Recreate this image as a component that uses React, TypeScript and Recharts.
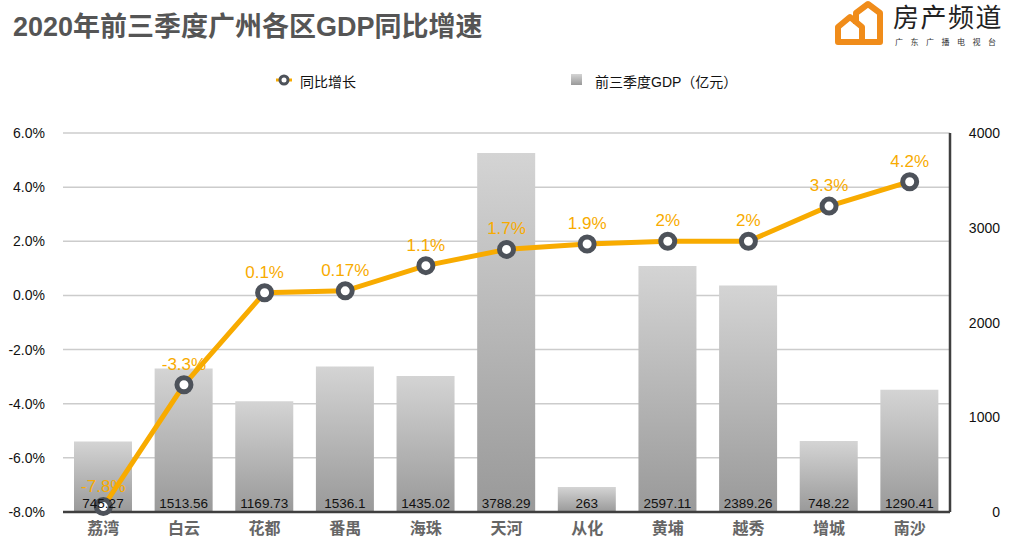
import React from 'react'
import {
  Bar,
  CartesianGrid,
  ComposedChart,
  LabelList,
  Line,
  XAxis,
  YAxis,
} from 'recharts'

const districts = ['荔湾', '白云', '花都', '番禺', '海珠', '天河', '从化', '黄埔', '越秀', '增城', '南沙']
const gdp = [745.27, 1513.56, 1169.73, 1536.1, 1435.02, 3788.29, 263, 2597.11, 2389.26, 748.22, 1290.41]
const growth = [-7.8, -3.3, 0.1, 0.17, 1.1, 1.7, 1.9, 2, 2, 3.3, 4.2]
const growthTicks = [-8, -6, -4, -2, 0, 2, 4, 6]
const gdpTicks = [0, 1000, 2000, 3000, 4000]

const FONT = '"Liberation Sans", Arial, "Noto Sans CJK SC", sans-serif'
const ORANGE = '#F8AB00'
const DOT_GRAY = '#4d525a'
const AXIS_DARK = '#3f3f3f'

const data = districts.map((name, i) => ({ name, gdp: gdp[i], growth: growth[i] }))

function RightTick({ x, y, payload }: any) {
  return (
    <text x={x + 50} y={y} dy={5} textAnchor="end" fontSize={14} fill="#111" fontFamily={FONT}>
      {payload.value}
    </text>
  )
}

function Logo() {
  return (
    <div style={{ position: 'absolute', left: 830, top: 0, width: 186, height: 50 }}>
      <svg width={56} height={50} style={{ position: 'absolute', left: 0, top: 0 }}>
        <path
          d="M26 24 L26 13 L38 4 L50 13 L50 42 L8 42 L8 27 L20 17 L32 27 L32 42"
          fill="none"
          stroke="#F08C1A"
          strokeWidth={6}
          strokeLinejoin="round"
        />
      </svg>
      <div
        style={{
          position: 'absolute',
          left: 63,
          top: 3,
          fontSize: 26,
          letterSpacing: 1.5,
          color: '#222',
          fontFamily: FONT,
          lineHeight: '30px',
          whiteSpace: 'nowrap',
        }}
      >
        房产频道
      </div>
      <div
        style={{
          position: 'absolute',
          left: 65,
          top: 36,
          fontSize: 8,
          letterSpacing: 7.5,
          color: '#333',
          fontFamily: FONT,
          whiteSpace: 'nowrap',
        }}
      >
        广东广播电视台
      </div>
    </div>
  )
}

function ChartLegend() {
  return (
    <div style={{ position: 'absolute', left: 0, top: 70, width: 1016, height: 20, fontFamily: FONT, fontSize: 14, color: '#111' }}>
      <svg width={20} height={20} style={{ position: 'absolute', left: 274, top: 0 }}>
        <line x1={2} y1={10} x2={18} y2={10} stroke={ORANGE} strokeWidth={3} />
        <circle cx={10} cy={10} r={4} fill="#fff" stroke={DOT_GRAY} strokeWidth={3} />
      </svg>
      <span style={{ position: 'absolute', left: 300, top: 1 }}>同比增长</span>
      <svg width={12} height={12} style={{ position: 'absolute', left: 571, top: 4 }}>
        <defs>
          <linearGradient id="legendGrad" x1="0" y1="0" x2="0" y2="1">
            <stop offset="0%" stopColor="#d4d4d4" />
            <stop offset="100%" stopColor="#999" />
          </linearGradient>
        </defs>
        <rect x={0} y={0} width={11} height={11} fill="url(#legendGrad)" />
      </svg>
      <span style={{ position: 'absolute', left: 595, top: 1 }}>前三季度GDP（亿元）</span>
    </div>
  )
}

export default function App() {
  return (
    <div style={{ position: 'absolute', left: 0, top: 0, width: 1016, height: 554, background: '#fff', fontFamily: FONT }}>
      <div
        style={{
          position: 'absolute',
          left: 13,
          top: 11,
          fontSize: 27,
          fontWeight: 'bold',
          color: '#555',
          whiteSpace: 'nowrap',
          lineHeight: '32px',
        }}
      >
        2020年前三季度广州各区GDP同比增速
      </div>
      <Logo />
      <ChartLegend />
      <div style={{ position: 'absolute', left: 0, top: 0 }}>
        <ComposedChart width={1016} height={554} data={data} margin={{ top: 133, right: 0, bottom: 0, left: 0 }}>
          <defs>
            <linearGradient id="barGrad" x1="0" y1="0" x2="0" y2="1">
              <stop offset="0%" stopColor="#d4d4d4" />
              <stop offset="100%" stopColor="#999999" />
            </linearGradient>
          </defs>
          <CartesianGrid yAxisId="pct" vertical={false} stroke="#cccccc" strokeWidth={1.5} />
          <XAxis
            dataKey="name"
            height={42}
            tickLine={false}
            tickSize={0}
            tickMargin={11}
            axisLine={{ stroke: AXIS_DARK, strokeWidth: 2.5 }}
            tick={{ fontSize: 16, fontWeight: 'bold', fill: '#666', fontFamily: FONT }}
            interval={0}
          />
          <YAxis
            yAxisId="pct"
            orientation="left"
            width={63}
            domain={[-8, 6]}
            ticks={growthTicks}
            tickFormatter={(v: number) => `${v.toFixed(1)}%`}
            axisLine={false}
            tickLine={false}
            tickSize={0}
            tickMargin={18}
            tick={{ fontSize: 14, fill: '#111', fontFamily: FONT }}
          />
          <YAxis
            yAxisId="gdp"
            orientation="right"
            width={66}
            domain={[0, 4000]}
            ticks={gdpTicks}
            axisLine={{ stroke: AXIS_DARK, strokeWidth: 2.5 }}
            tickLine={false}
            tickSize={0}
            tickMargin={0}
            tick={<RightTick />}
          />
          <Bar yAxisId="gdp" dataKey="gdp" fill="url(#barGrad)" barSize={58} isAnimationActive={false}>
            <LabelList dataKey="gdp" position="insideBottom" offset={4} fontSize={13.5} fill="#111" fontFamily={FONT} />
          </Bar>
          <Line
            yAxisId="pct"
            dataKey="growth"
            stroke={ORANGE}
            strokeWidth={5}
            dot={{ r: 7, fill: '#fff', stroke: DOT_GRAY, strokeWidth: 5 }}
            activeDot={false}
            isAnimationActive={false}
          >
            <LabelList
              dataKey="growth"
              position="top"
              offset={15}
              fontSize={17}
              fill={ORANGE}
              fontFamily={FONT}
              formatter={(v: any) => `${v}%`}
            />
          </Line>
        </ComposedChart>
      </div>
    </div>
  )
}
